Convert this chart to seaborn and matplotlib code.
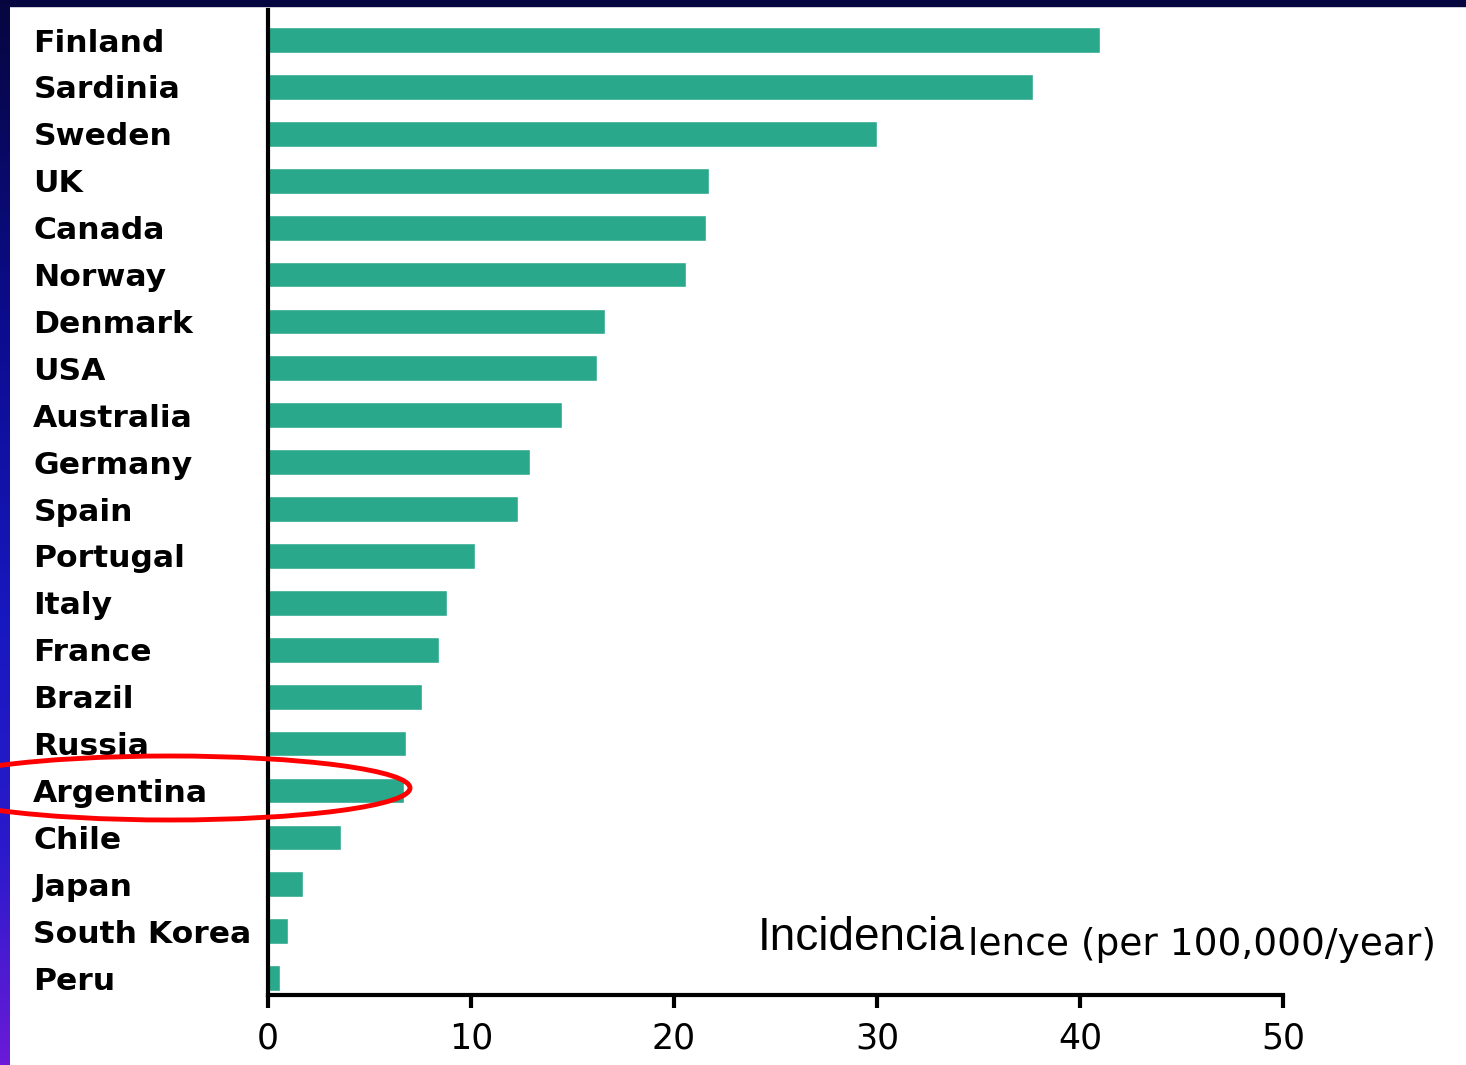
"""
plot.py

Type 1 diabetes incidence by country (horizontal bars), slide style
"""

import numpy as np
import seaborn as sns
from matplotlib import pyplot as plt
from matplotlib.patches import Ellipse, Rectangle
from matplotlib.colors import LinearSegmentedColormap

sns.set_style('white')
plt.rcParams['text.color'] = 'black'
plt.rcParams['xtick.color'] = 'black'
plt.rcParams['ytick.color'] = 'black'
plt.rcParams['axes.labelcolor'] = 'black'

#------------------------------------------------------------------------------
# Data
#------------------------------------------------------------------------------
countries = ['Finland', 'Sardinia', 'Sweden', 'UK', 'Canada', 'Norway',
             'Denmark', 'USA', 'Australia', 'Germany', 'Spain', 'Portugal',
             'Italy', 'France', 'Brazil', 'Russia', 'Argentina', 'Chile',
             'Japan', 'South Korea', 'Peru']
incidence = [41.0, 37.7, 30.0, 21.7, 21.6, 20.6, 16.6, 16.2, 14.5, 12.9,
             12.3, 10.2, 8.8, 8.4, 7.6, 6.8, 6.7, 3.6, 1.7, 1.0, 0.6]
xticks = [0, 10, 20, 30, 40, 50]

#------------------------------------------------------------------------------
# Figure
#------------------------------------------------------------------------------
W, H = 1466, 1065
fig = plt.figure(figsize=(W / 100, H / 100), dpi=100)

# slide background: navy strip on top, gradient strip on the left
fig.add_artist(Rectangle((0, 1 - 6 / H), 1, 6 / H, transform=fig.transFigure,
                         color='#05053f', zorder=0))
grad_ax = fig.add_axes([0, 0, 10 / W, 1])
cmap = LinearSegmentedColormap.from_list(
    'slide', [(0, '#06063f'), (0.3, '#0c0c8e'), (0.58, '#1818c0'),
              (0.8, '#2a1acb'), (1.0, '#6a1ad8')])
grad_ax.imshow(np.linspace(0, 1, 256).reshape(-1, 1), aspect='auto', cmap=cmap)
grad_ax.axis('off')

ax = fig.add_axes([268 / W, 1 - 995 / H, (1283 - 268) / W, (995 - 10) / H])
sns.barplot(x=incidence, y=countries, orient='h', color='#2aa88c',
            saturation=1, width=0.55, ax=ax)

ax.set_xlim(0, 50)
ax.set_ylim(20.36, -0.64)
ax.set_xticks(xticks)
ax.set_xticklabels([str(t) for t in xticks], fontsize=25, color='black')
ax.set_xlabel('')
ax.set_ylabel('')

ax.spines['right'].set_visible(False)
ax.spines['top'].set_visible(False)
for s in ['left', 'bottom']:
    ax.spines[s].set_linewidth(3)
    ax.spines[s].set_color('black')

ax.tick_params(axis='x', direction='out', length=9, width=3, pad=10,
               colors='black', bottom=True)
ax.tick_params(axis='y', length=0, pad=169)
for lab in ax.get_yticklabels():
    lab.set_ha('left')
    lab.set_fontsize(22.6)
    lab.set_fontweight('bold')
    lab.set_color('black')

# axis title (overlapping text as on the slide)
fig.text(968 / W, 1 - 955 / H, 'lence (per 100,000/year)', fontsize=27,
         ha='left', va='baseline', color='black')
fig.text(965 / W, 1 - 950 / H, 'Incidencia', fontsize=33,
         family='Liberation Sans', ha='right', va='baseline', color='black')

# red highlight around Argentina
fig.add_artist(Ellipse((170 / W, 1 - 788 / H), 480 / W, 64 / H,
                       transform=fig.transFigure, fill=False,
                       edgecolor='#ff0000', linewidth=3.5, zorder=10))

#------------------------------------------------------------------------------
# Save figure
#------------------------------------------------------------------------------
plt.savefig('out.png', dpi=100)
